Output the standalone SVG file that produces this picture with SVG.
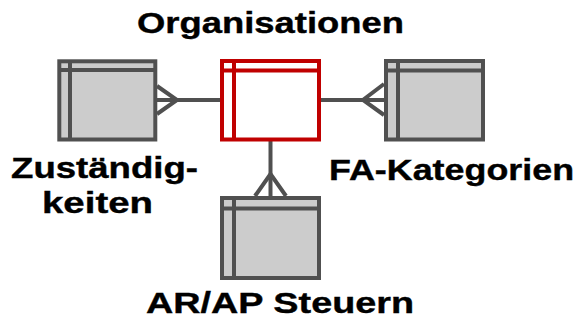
<svg xmlns="http://www.w3.org/2000/svg" width="578" height="324" viewBox="0 0 578 324">
  <style>
    .tbl { fill: #cccccc; stroke: #505050; stroke-width: 4; }
    .tbl-line { stroke: #505050; stroke-width: 4; fill: none; }
    .main { fill: #ffffff; stroke: #c00000; stroke-width: 4; }
    .main-line { stroke: #c00000; stroke-width: 4; fill: none; }
    .conn { stroke: #505050; stroke-width: 4; fill: none; stroke-linejoin: miter; }
    .lbl { font-family: "Liberation Sans", Arial, sans-serif; font-weight: bold; font-size: 30px; fill: #000000; stroke: #000000; stroke-width: 0.4; }
  </style>
  <rect width="578" height="324" fill="#ffffff"/>

  <!-- relationship lines with crow's feet on the many side -->
  <g id="connectors">
    <line class="conn" x1="157" y1="100" x2="221" y2="100"/>
    <polyline class="conn" points="157,86 177,100 157,114"/>
    <line class="conn" x1="320" y1="100" x2="384" y2="100"/>
    <polyline class="conn" points="384,84 363,100 384,115"/>
    <line class="conn" x1="270.5" y1="141" x2="270.5" y2="197"/>
    <polyline class="conn" points="255,196 270.5,174 286,196"/>
  </g>

  <!-- labels use a 1.2 horizontal stretch -->
  <g id="organisationen">
    <rect class="main" x="222" y="61" width="97" height="78.5"/>
    <line class="main-line" x1="222" y1="70.5" x2="319" y2="70.5"/>
    <line class="main-line" x1="234" y1="61" x2="234" y2="139.5"/>
    <text class="lbl" transform="scale(1.2 1)" x="114.2" y="33" textLength="222.5" lengthAdjust="spacingAndGlyphs">Organisationen</text>
  </g>

  <g id="zustaendigkeiten">
    <rect class="tbl" x="59.3" y="61.3" width="96" height="78.2"/>
    <line class="tbl-line" x1="59.3" y1="70" x2="155.3" y2="70"/>
    <line class="tbl-line" x1="70" y1="61.3" x2="70" y2="139.5"/>
    <text class="lbl" transform="scale(1.2 1)" x="9.2" y="178.5" textLength="155.8" lengthAdjust="spacingAndGlyphs">Zuständig-</text>
    <text class="lbl" transform="scale(1.2 1)" x="35" y="213.5" textLength="92.5" lengthAdjust="spacingAndGlyphs">keiten</text>
  </g>

  <g id="fa-kategorien">
    <rect class="tbl" x="386" y="61" width="97" height="78.5"/>
    <line class="tbl-line" x1="386" y1="70.5" x2="483" y2="70.5"/>
    <line class="tbl-line" x1="398" y1="61" x2="398" y2="139.5"/>
    <text class="lbl" transform="scale(1.2 1)" x="274.2" y="180" textLength="204.2" lengthAdjust="spacingAndGlyphs">FA-Kategorien</text>
  </g>

  <g id="ar-ap-steuern">
    <rect class="tbl" x="222" y="198" width="97" height="80"/>
    <line class="tbl-line" x1="222" y1="208.5" x2="319" y2="208.5"/>
    <line class="tbl-line" x1="234" y1="198" x2="234" y2="278"/>
    <text class="lbl" transform="scale(1.2 1)" x="121.7" y="313.5" textLength="223.3" lengthAdjust="spacingAndGlyphs">AR/AP Steuern</text>
  </g>
</svg>
